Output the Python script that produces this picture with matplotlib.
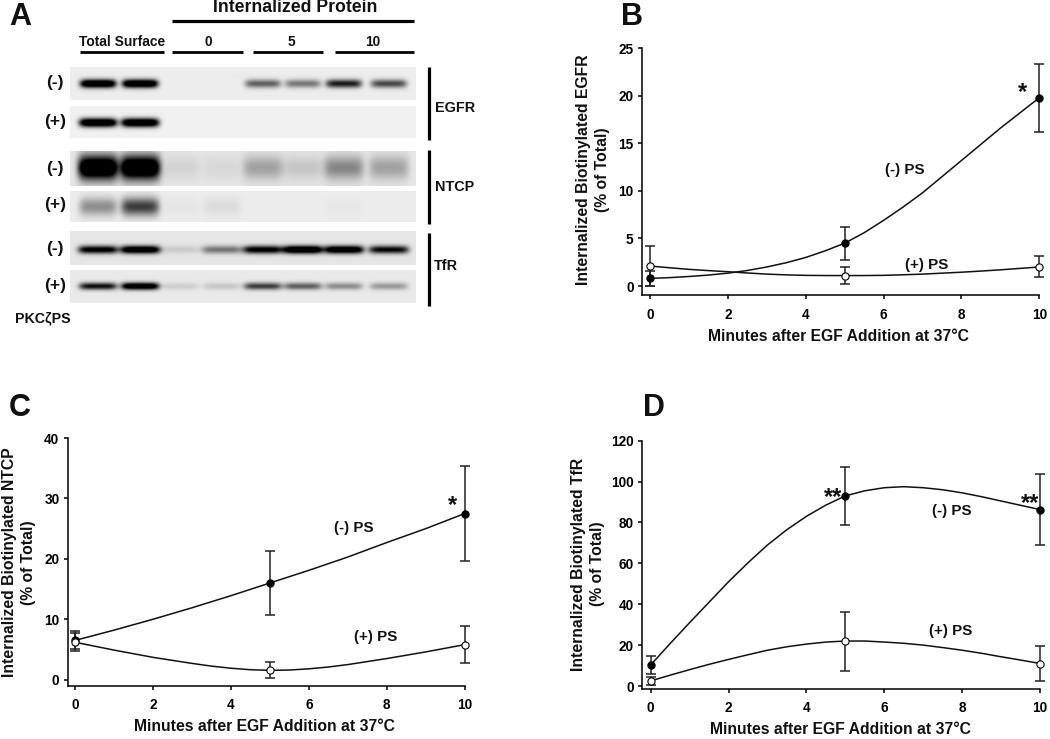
import numpy as np
import matplotlib
matplotlib.use("Agg")
import matplotlib.pyplot as plt

plt.rcParams["font.family"] = ["Liberation Sans", "DejaVu Sans"]
plt.rcParams["font.weight"] = "bold"

W, H = 1050, 739

# curve readings at each half minute
minutes = [0, 0.5, 1, 1.5, 2, 2.5, 3, 3.5, 4, 4.5, 5, 5.5, 6, 6.5, 7, 7.5, 8, 8.5, 9, 9.5, 10]
points_x = [0, 5, 10]

egfr_minus_curve = [0.8, 0.88, 1.0, 1.15, 1.35, 1.63, 2.0, 2.45, 3.0, 3.7, 4.5, 5.6, 6.9, 8.3, 9.8,
                    11.5, 13.2, 14.9, 16.6, 18.2, 19.8]
egfr_plus_curve = [2.1, 1.92, 1.75, 1.62, 1.5, 1.37, 1.25, 1.17, 1.12, 1.1, 1.1, 1.1, 1.12, 1.18, 1.25,
                   1.35, 1.45, 1.57, 1.7, 1.85, 2.0]
egfr_minus = [0.8, 4.5, 19.8]
egfr_minus_lo = [0.0, 2.75, 16.2]
egfr_minus_hi = [1.55, 6.25, 23.4]
egfr_plus = [2.1, 1.1, 2.0]
egfr_plus_lo = [0.0, 0.2, 0.9]
egfr_plus_hi = [4.25, 2.05, 3.15]

ntcp_minus_curve = [6.5, 7.35, 8.2, 9.1, 10, 10.95, 11.9, 12.9, 13.9, 14.95, 16, 17.05, 18.1, 19.2, 20.3,
                    21.5, 22.7, 23.85, 25, 26.25, 27.5]
ntcp_plus_curve = [6.2, 5.55, 4.9, 4.3, 3.7, 3.2, 2.7, 2.25, 1.9, 1.65, 1.55, 1.6, 1.8, 2.1, 2.5,
                   3.0, 3.5, 4.05, 4.6, 5.2, 5.8]
ntcp_minus = [6.5, 16.0, 27.5]
ntcp_minus_lo = [5.0, 10.7, 19.6]
ntcp_minus_hi = [8.0, 21.3, 35.4]
ntcp_plus = [6.2, 1.55, 5.8]
ntcp_plus_lo = [4.7, 0.2, 2.7]
ntcp_plus_hi = [7.8, 3.0, 8.9]

tfr_minus_curve = [10.3, 20.8, 31, 41, 51, 60.3, 69, 76.5, 83, 88.5, 93, 95.5, 97, 97.5, 97,
                   96, 94.5, 92.6, 90.5, 88.4, 86.3]
tfr_plus_curve = [2.5, 5.3, 8, 10.6, 13, 15.3, 17.5, 19.2, 20.5, 21.5, 22, 22, 21.5, 20.9, 20,
                  18.8, 17.5, 16, 14.3, 12.7, 11]
tfr_minus = [10.3, 93, 86.3]
tfr_minus_lo = [6, 79, 69]
tfr_minus_hi = [14.5, 107, 103.5]
tfr_plus = [2.5, 22, 11]
tfr_plus_lo = [0.5, 7.3, 2.5]
tfr_plus_hi = [4.5, 36.3, 19.7]

# blot band darkness per lane (0 to 1+, clipped when drawn)
egfr_minus_bands = [1.4, 1.4, 0, 0, 0.6, 0.5, 0.9, 0.7]
egfr_plus_bands = [1.4, 1.4, 0, 0, 0, 0, 0, 0]
ntcp_minus_bands = [1.5, 1.5, 0.08, 0.06, 0.3, 0.14, 0.42, 0.3]
ntcp_plus_bands = [0.4, 0.75, 0.03, 0.07, 0, 0, 0.02, 0]
tfr_minus_bands = [1.1, 1.3, 0.12, 0.5, 1.1, 1.4, 1.3, 1.0]
tfr_plus_bands = [0.95, 1.3, 0.12, 0.15, 0.75, 0.6, 0.4, 0.35]

fig = plt.figure(figsize=(W / 100, H / 100), dpi=100)


def px_axes(left, top, right, bottom, **kw):
    return fig.add_axes([left / W, 1 - bottom / H, (right - left) / W, (bottom - top) / H], **kw)


# overlay in pixel coordinates for the labels of the figure
bg = px_axes(0, 0, W, H, zorder=5)
bg.set_xlim(0, W)
bg.set_ylim(H, 0)
bg.axis("off")
bg.patch.set_alpha(0)


def label(x, y, s, size=11.3, **kw):
    bg.text(x, y, s, fontsize=size, ha="center", va="center", fontweight="bold", color="#111111", **kw)


# ---- panel A ----
lane_x = [28, 70, 110, 152, 193, 233, 274, 319]   # lane centres inside a strip
strips = [
    (67, 99.7, egfr_minus_bands, 18, 4.2, 0.928, 16.5, 2.0),
    (106.3, 138, egfr_plus_bands, 19, 4.4, 0.945, 16.5, 2.0),
    (151.3, 186, ntcp_minus_bands, 20, 12.0, 0.90, 16.5, 2.0),
    (191, 221.7, ntcp_plus_bands, 19, 9.0, 0.925, 15.5, 2.0),
    (231.3, 265, tfr_minus_bands, 20, 4.0, 0.90, 18.5, 2.0),
    (269.7, 303.3, tfr_plus_bands, 19, 3.6, 0.915, 17, 2.0),
]
for top, bottom, bands, half_w, half_h, shade, yc, power in strips:
    ax = px_axes(70, top, 416, bottom)
    ny, nx = int(bottom - top) * 2, 346 * 2
    xx, yy = np.meshgrid(np.linspace(0, 346, nx), np.linspace(0, bottom - top, ny))
    img = np.full((ny, nx), shade)
    for lx, level in zip(lane_x, bands):
        prof = np.exp(-np.abs((xx - lx) / half_w) ** 6) * np.exp(-np.abs((yy - yc) / half_h) ** power)
        img = img - level * prof * shade
    ax.imshow(np.clip(img, 0, 1), cmap="gray", vmin=0, vmax=1, aspect="auto")
    ax.axis("off")

label(295, 7.5, "Internalized Protein", 12.7)
bg.plot([172, 414], [20.7, 20.7], color="k", lw=2.3, solid_capstyle="butt")
label(121.7, 42.5, "Total Surface", 9.9)
for x, s in zip([208, 291.7, 373], ["0", "5", "10"]):
    label(x, 42.5, s, 9.9)
for x0, x1 in [(79.5, 164), (172, 243), (253, 323), (335, 414)]:
    bg.plot([x0, x1], [52.3, 52.3], color="k", lw=2.0, solid_capstyle="butt")
for y, s in zip([82.7, 121.7, 168.7, 204, 248, 285.7], ["(-)", "(+)", "(-)", "(+)", "(-)", "(+)"]):
    label(54.7, y, s, 12.5)
for y0, y1 in [(67, 140), (150.3, 223.7), (232.7, 305.7)]:
    bg.plot([428.7, 428.7], [y0, y1], color="k", lw=2.3, solid_capstyle="butt")
label(455, 108, "EGFR", 10.4)
label(455, 187, "NTCP", 10.4)
label(446, 266, "TfR", 10.4)
label(43, 318.5, "PKCζPS", 10.2)

for x, y, s in [(20.7, 17, "A"), (631.7, 17, "B"), (20, 407.7, "C"), (654, 407.7, "D")]:
    label(x, y, s, 22)


# ---- line panels ----
def line_panel(spine_x, x0, x10, ytop, y0, spine_y, ymax, ystep,
               m_curve, p_curve, m, m_lo, m_hi, p, p_lo, p_hi):
    per_x = (x10 - x0) / 10
    per_y = (y0 - ytop) / ymax
    ax = px_axes(spine_x, ytop, x10, spine_y)
    ax.set_xlim(-(x0 - spine_x) / per_x, 10)
    ax.set_ylim(-(spine_y - y0) / per_y, ymax)
    ax.patch.set_alpha(0)
    for name in ["top", "right"]:
        ax.spines[name].set_visible(False)
    for name in ["left", "bottom"]:
        ax.spines[name].set_linewidth(1.1)
    ax.set_xticks([0, 2, 4, 6, 8, 10])
    ax.set_yticks(np.arange(0, ymax + 1, ystep))
    ax.tick_params(axis="y", length=3, width=1.1, labelsize=9.8, pad=3.0)
    ax.tick_params(axis="x", length=3, width=1.1, labelsize=9.8, pad=6.0)
    ax.plot(minutes, m_curve, color="#111111", lw=1.1, zorder=3, clip_on=False)
    ax.plot(minutes, p_curve, color="#111111", lw=1.1, zorder=3, clip_on=False)
    for vals, lo, hi, face in [(m, m_lo, m_hi, "k"), (p, p_lo, p_hi, "w")]:
        err = [np.array(vals) - np.array(lo), np.array(hi) - np.array(vals)]
        ax.errorbar(points_x, vals, yerr=err, fmt="none", ecolor="#222222", elinewidth=1.1,
                    capsize=3.3, capthick=1.1, zorder=2, clip_on=False)
        ax.plot(points_x, vals, "o", ms=5.2, mfc=face, mec="k", mew=0.8, zorder=4, clip_on=False)
    return ax


line_panel(642, 650, 1039.3, 48.3, 286, 295.3, 25, 5, egfr_minus_curve, egfr_plus_curve,
           egfr_minus, egfr_minus_lo, egfr_minus_hi, egfr_plus, egfr_plus_lo, egfr_plus_hi)
line_panel(67.7, 75, 464.7, 438, 679.7, 685.7, 40, 10, ntcp_minus_curve, ntcp_plus_curve,
           ntcp_minus, ntcp_minus_lo, ntcp_minus_hi, ntcp_plus, ntcp_plus_lo, ntcp_plus_hi)
line_panel(642.3, 650.7, 1040, 440.7, 686, 689, 120, 20, tfr_minus_curve, tfr_plus_curve,
           tfr_minus, tfr_minus_lo, tfr_minus_hi, tfr_plus, tfr_plus_lo, tfr_plus_hi)

xlab = "Minutes after EGF Addition at 37°C"
label(838, 336.5, xlab)
label(264, 726.5, xlab)
label(840, 729, xlab)

label(593, 170, "Internalized Biotinylated EGFR\n(% of Total)", rotation=90, linespacing=1.35)
label(19, 562.5, "Internalized Biotinylated NTCP\n(% of Total)", rotation=90, linespacing=1.25)
label(588, 564, "Internalized Biotinylated TfR\n(% of Total)", rotation=90, linespacing=1.35)

for x, y, s in [(905, 170, "(-) PS"), (927, 265.5, "(+) PS"), (354, 528, "(-) PS"),
                (376, 636.5, "(+) PS"), (952, 510.5, "(-) PS"), (951, 631, "(+) PS")]:
    label(x, y, s, 10.9)
for x, y, s in [(1022, 93, "*"), (452, 506, "*"), (833, 498, "**"), (1029.7, 504, "**")]:
    label(x, y, s, 17)

fig.savefig("out.png", dpi=100)
